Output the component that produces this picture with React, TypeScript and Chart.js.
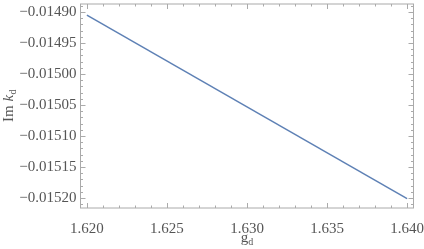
import React, { useEffect, useRef } from "react";
import { Chart, registerables } from "chart.js";

Chart.register(...registerables);

// ---- data ----
const gValues = [1.62, 1.64];
const imKValues = [-0.014905, -0.015201];
const xTickValues = [1.62, 1.625, 1.63, 1.635, 1.64];
const yTickValues = [-0.0149, -0.01495, -0.015, -0.01505, -0.0151, -0.01515, -0.0152];
const xRange = [1.6196, 1.6404];
const yRange = [-0.015216, -0.014887];
const xMinorStep = 0.001;
const yMinorStep = 0.00001;

const FONT = "'Liberation Serif', 'DejaVu Serif', serif";
const TEXT_COLOR = "#555555";
const FRAME_COLOR = "#aaaaaa";
const LINE_COLOR = "rgb(94,129,181)";

const framePlugin = {
  id: "mmaFrame",
  afterDraw(chart: any) {
    const { ctx, chartArea: a, scales } = chart;
    const xs = scales.x;
    const ys = scales.y;
    ctx.save();
    ctx.strokeStyle = FRAME_COLOR;
    ctx.lineWidth = 1;
    ctx.strokeRect(a.left, a.top, a.right - a.left, a.bottom - a.top);

    const line = (x1: number, y1: number, x2: number, y2: number) => {
      ctx.beginPath();
      ctx.moveTo(x1, y1);
      ctx.lineTo(x2, y2);
      ctx.stroke();
    };
    const isMajor = (v: number, majors: number[], eps: number) =>
      majors.some((m) => Math.abs(m - v) < eps);

    // x ticks
    for (let i = -1; i <= 21; i++) {
      const v = xTickValues[0] + i * xMinorStep;
      if (v < xRange[0] || v > xRange[1]) continue;
      const len = isMajor(v, xTickValues, 1e-7) ? 5 : 2.5;
      const px = Math.round(xs.getPixelForValue(v)) + 0.5;
      line(px, a.bottom, px, a.bottom - len);
      line(px, a.top, px, a.top + len);
    }
    // y ticks
    for (let i = -2; i <= 32; i++) {
      const v = yTickValues[yTickValues.length - 1] + i * yMinorStep;
      if (v < yRange[0] || v > yRange[1]) continue;
      const len = isMajor(v, yTickValues, 1e-9) ? 5 : 2.5;
      const py = Math.round(ys.getPixelForValue(v)) + 0.5;
      line(a.left, py, a.left + len, py);
      line(a.right, py, a.right - len, py);
    }

    // axis titles
    ctx.fillStyle = TEXT_COLOR;
    ctx.textBaseline = "alphabetic";
    ctx.textAlign = "left";
    const main = `15px ${FONT}`;
    const ital = `italic 15px ${FONT}`;
    const sub = `10px ${FONT}`;

    // x title: g_d
    ctx.font = main;
    const wg = ctx.measureText("g").width;
    ctx.font = sub;
    const wd = ctx.measureText("d").width;
    const cx = (a.left + a.right) / 2;
    const xStart = cx - (wg + wd) / 2;
    const baseY = 242;
    ctx.font = main;
    ctx.fillText("g", xStart, baseY);
    ctx.font = sub;
    ctx.fillText("d", xStart + wg, baseY + 3);

    // y title: Im k_d rotated
    ctx.save();
    const cy = (a.top + a.bottom) / 2;
    ctx.translate(13, cy);
    ctx.rotate(-Math.PI / 2);
    ctx.font = main;
    const wIm = ctx.measureText("Im ").width;
    ctx.font = ital;
    const wk = ctx.measureText("k").width;
    ctx.font = sub;
    const wd2 = ctx.measureText("d").width;
    let x0 = -(wIm + wk + wd2) / 2;
    ctx.font = main;
    ctx.fillText("Im ", x0, 0);
    x0 += wIm;
    ctx.font = ital;
    ctx.fillText("k", x0, 0);
    x0 += wk;
    ctx.font = sub;
    ctx.fillText("d", x0 + 0.5, 3);
    ctx.restore();

    ctx.restore();
  },
};

export default function App() {
  const canvasRef = useRef<HTMLCanvasElement | null>(null);

  useEffect(() => {
    document.body.style.margin = "0";
    const canvas = canvasRef.current;
    if (!canvas) return;
    const chart = new Chart(canvas, {
      type: "line",
      data: {
        datasets: [
          {
            data: gValues.map((g, i) => ({ x: g, y: imKValues[i] })),
            borderColor: LINE_COLOR,
            borderWidth: 1.5,
            pointRadius: 0,
            fill: false,
            tension: 0,
          },
        ],
      },
      options: {
        responsive: false,
        animation: false,
        devicePixelRatio: 1,
        layout: { padding: { top: 4, right: 10.5, left: 0, bottom: 0 } },
        plugins: {
          legend: { display: false },
          tooltip: { enabled: false },
        },
        scales: {
          x: {
            type: "linear",
            min: xRange[0],
            max: xRange[1],
            grid: { display: false, drawTicks: false },
            border: { display: false },
            afterBuildTicks: (s: any) => {
              s.ticks = xTickValues.map((v) => ({ value: v }));
            },
            afterFit: (s: any) => {
              s.height = 41;
              s.paddingLeft = 0;
              s.paddingRight = 0;
              s.paddingTop = 0;
              s.paddingBottom = 0;
            },
            ticks: {
              autoSkip: false,
              maxRotation: 0,
              padding: 12,
              color: TEXT_COLOR,
              font: { family: FONT, size: 15 },
              callback: (v: any) => Number(v).toFixed(3),
            },
          },
          y: {
            type: "linear",
            min: yRange[0],
            max: yRange[1],
            grid: { display: false, drawTicks: false },
            border: { display: false },
            afterBuildTicks: (s: any) => {
              s.ticks = yTickValues.map((v) => ({ value: v }));
            },
            afterFit: (s: any) => {
              s.width = 80.5;
              s.paddingLeft = 0;
              s.paddingRight = 0;
              s.paddingTop = 0;
              s.paddingBottom = 0;
            },
            ticks: {
              autoSkip: false,
              padding: 4,
              color: TEXT_COLOR,
              font: { family: FONT, size: 15 },
              callback: (v: any) => "\u2212" + Math.abs(Number(v)).toFixed(5),
            },
          },
        },
      },
      plugins: [framePlugin],
    });
    return () => chart.destroy();
  }, []);

  return (
    <div style={{ position: "absolute", left: 0, top: 0, width: 424, height: 249 }}>
      <canvas ref={canvasRef} width={424} height={249} style={{ width: 424, height: 249, display: "block" }} />
    </div>
  );
}
